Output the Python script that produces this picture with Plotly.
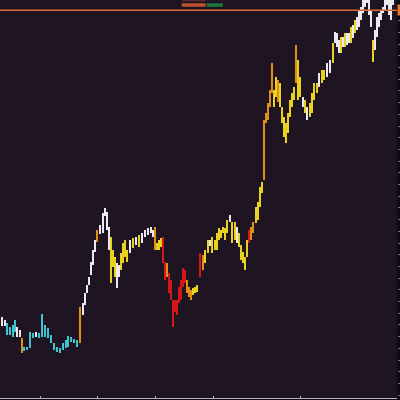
import plotly.graph_objects as go

# bar time index
bar_time = [2, 5, 7, 10, 13, 15, 17, 20, 22, 24, 27, 30, 33, 36, 39, 42, 45, 48, 51, 54,
            57, 60, 63, 66, 68, 71, 74, 77, 80, 83, 85, 87, 89, 91, 93, 95, 97, 100, 103, 105,
            107, 109, 111, 113, 115, 117, 119, 121, 123, 125, 127, 130, 133, 136, 139, 142, 145, 148, 151, 153,
            155, 157, 159, 161, 163, 165, 167, 169, 171, 173, 175, 177, 179, 181, 183, 185, 187, 189, 191, 193,
            195, 197, 200, 203, 205, 208, 210, 212, 215, 217, 219, 221, 223, 225, 227, 230, 232, 235, 237, 239,
            241, 243, 245, 247, 249, 251, 253, 256, 258, 260, 262, 264, 266, 268, 270, 272, 274, 276, 278, 280,
            282, 284, 286, 288, 290, 292, 294, 296, 298, 300, 303, 305, 307, 310, 312, 314, 317, 319, 322, 324,
            327, 330, 333, 335, 337, 339, 341, 343, 345, 347, 349, 351, 353, 355, 357, 359, 361, 363, 365, 367,
            369, 371, 373, 375, 377, 379, 381, 383, 385, 387, 389, 391, 393]

bar_high = [83, 80, 77, 73, 75, 80, 73, 70, 62, 53, 53, 68, 67, 68, 67, 86, 75, 72, 65, 57,
            53, 52, 57, 60, 64, 63, 61, 60, 93, 97, 107, 115, 123, 138, 150, 160, 170, 175, 187, 192,
            188, 173, 163, 150, 143, 137, 135, 147, 157, 160, 150, 160, 162, 163, 165, 167, 170, 172, 173, 170,
            173, 157, 160, 162, 163, 138, 137, 127, 120, 100, 100, 100, 113, 120, 132, 130, 120, 113, 110, 112,
            113, 115, 147, 145, 150, 160, 160, 163, 160, 167, 172, 170, 173, 172, 180, 185, 178, 178, 173, 167,
            155, 148, 143, 160, 170, 173, 178, 193, 198, 213, 218, 280, 287, 297, 310, 337, 310, 323, 320, 317,
            293, 283, 277, 287, 300, 307, 313, 355, 340, 323, 303, 300, 293, 297, 307, 317, 317, 327, 330, 330,
            337, 340, 357, 368, 367, 360, 363, 363, 367, 367, 367, 373, 375, 380, 383, 390, 393, 402, 402, 405,
            402, 390, 360, 370, 383, 387, 390, 393, 402, 405, 402, 402, 405]

bar_low = [74, 74, 65, 65, 63, 68, 63, 63, 47, 49, 50, 52, 62, 63, 62, 63, 63, 62, 57, 50,
           48, 47, 50, 52, 53, 58, 57, 53, 57, 85, 95, 107, 115, 125, 135, 148, 158, 166, 167, 184,
           170, 150, 117, 133, 123, 112, 123, 130, 137, 143, 138, 147, 152, 155, 153, 157, 163, 165, 167, 163,
           150, 150, 150, 153, 137, 120, 123, 107, 100, 73, 88, 85, 97, 100, 113, 117, 107, 103, 100, 105,
           107, 108, 123, 130, 137, 147, 154, 147, 150, 150, 160, 162, 167, 160, 167, 178, 157, 160, 157, 153,
           140, 137, 130, 143, 157, 160, 167, 177, 180, 193, 207, 220, 277, 280, 293, 307, 293, 303, 298, 293,
           277, 263, 257, 267, 283, 293, 300, 317, 300, 303, 293, 287, 280, 283, 287, 300, 307, 313, 317, 320,
           323, 327, 337, 357, 353, 347, 347, 353, 353, 355, 357, 357, 362, 367, 370, 373, 380, 387, 393, 397,
           385, 373, 338, 350, 363, 373, 380, 387, 390, 395, 385, 380, 395]

bar_tone = ["W", "W", "C", "C", "C", "C", "W", "W", "O", "C", "C", "C", "C", "W", "C", "C", "C", "C", "C", "C",
            "C", "C", "C", "C", "C", "C", "C", "C", "O", "W", "W", "W", "W", "W", "W", "W", "O", "W", "W", "W",
            "W", "W", "Y", "Y", "Y", "W", "W", "Y", "Y", "Y", "Y", "W", "Y", "W", "Y", "W", "W", "W", "W", "W",
            "O", "Y", "Y", "Y", "R", "R", "O", "R", "R", "R", "R", "R", "R", "R", "R", "R", "O", "O", "O", "Y",
            "Y", "Y", "R", "O", "Y", "Y", "W", "Y", "Y", "Y", "Y", "Y", "Y", "Y", "Y", "W", "Y", "Y", "W", "Y",
            "Y", "Y", "Y", "Y", "R", "O", "O", "Y", "Y", "Y", "Y", "O", "O", "O", "O", "O", "Y", "Y", "O", "Y",
            "Y", "Y", "Y", "Y", "Y", "Y", "Y", "O", "Y", "Y", "W", "Y", "W", "Y", "Y", "Y", "Y", "W", "Y", "Y",
            "W", "W", "Y", "W", "W", "W", "Y", "W", "Y", "W", "W", "Y", "W", "Y", "W", "W", "W", "W", "W", "W",
            "W", "W", "Y", "W", "W", "W", "W", "W", "W", "W", "W", "W", "W"]

last_price = 389.7
x_ticks = [40, 97, 155, 213, 300]

palette = {"C": "#3ec4d0", "W": "#ebe8ef", "Y": "#e9d21f", "O": "#df8f16", "R": "#d3171b"}

fig = go.Figure()
fig.add_trace(go.Bar(
    x=bar_time,
    y=[h - l for h, l in zip(bar_high, bar_low)],
    base=bar_low,
    marker=dict(color=[palette[t] for t in bar_tone], line=dict(width=0)),
    width=1.0,
    hoverinfo="skip",
))

fig.add_shape(type="line", xref="paper", x0=0, x1=1, yref="y", y0=last_price, y1=last_price,
              line=dict(color="#d96a3c", width=1.5))
fig.add_annotation(xref="paper", x=1, xanchor="left", y=last_price, yanchor="middle",
                   text=" ", showarrow=False, bgcolor="#e8742e", font=dict(size=6), borderpad=1)

# small status bars at the top
fig.add_shape(type="rect", xref="paper", yref="paper", x0=0.4577, x1=0.518, y0=0.983, y1=0.9917,
              fillcolor="#bf512b", line=dict(width=0))
fig.add_shape(type="rect", xref="paper", yref="paper", x0=0.5207, x1=0.561, y0=0.983, y1=0.9917,
              fillcolor="#1b7a3b", line=dict(width=0))
fig.add_shape(type="rect", xref="paper", yref="paper", x0=0.4577, x1=0.518, y0=0.997, y1=1.0,
              fillcolor="#5a2a2a", line=dict(width=0))

fig.update_layout(
    width=400, height=400,
    margin=dict(l=0, r=3, t=0, b=2, autoexpand=False),
    paper_bgcolor="#0d0b10",
    plot_bgcolor="#1f1421",
    showlegend=False,
    xaxis=dict(range=[0, 397], showgrid=False, zeroline=False, showline=True,
               linecolor="#b4b4b8", linewidth=1, ticks="inside", tickvals=x_ticks,
               ticklen=2, tickcolor="#b4b4b8", showticklabels=False),
    yaxis=dict(range=[2, 400], side="right", showgrid=False, zeroline=False,
               ticks="outside", ticklen=2, tickcolor="#707078", tick0=379.3, dtick=11.7,
               showticklabels=False),
)

fig.write_html(
    "out.html",
    config={"displayModeBar": False},
    post_script="document.body.style.margin='0';document.body.style.overflow='hidden';",
)
